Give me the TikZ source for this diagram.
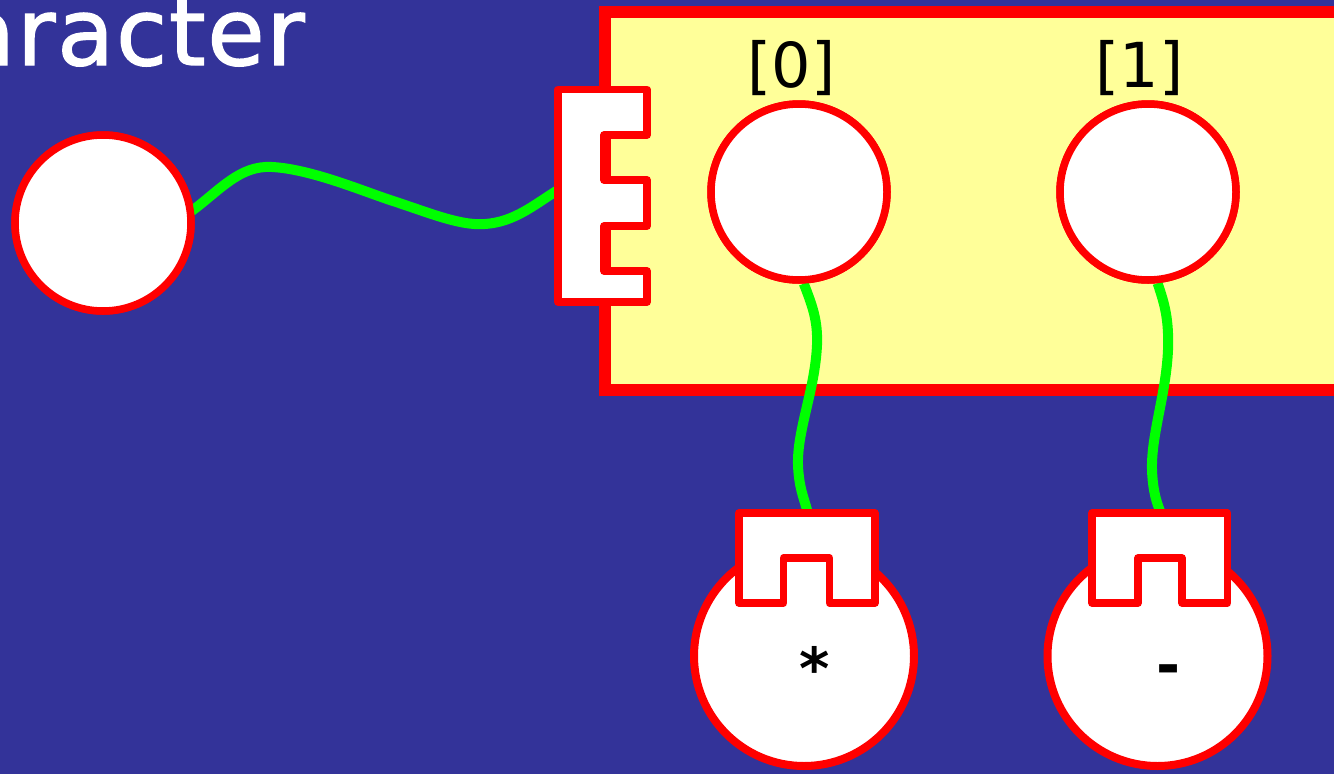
\documentclass[tikz,border=0pt]{standalone}
\usepackage{fontspec}
\newfontfamily\dvs{DejaVu Sans}
\newfontfamily\dvstitle[LetterSpace=2,FakeBold=1.5]{DejaVu Sans}
\definecolor{bgblue}{RGB}{51,51,153}
\definecolor{paleyellow}{RGB}{255,255,153}
\definecolor{wiregreen}{RGB}{0,255,0}
\tikzset{
  ball/.style={circle, draw=red, line width=7.5pt, fill=white, inner sep=0pt, minimum size=176pt},
  bigball/.style={circle, draw=red, line width=8pt, fill=white, inner sep=0pt, minimum size=220pt},
  plug/.style={draw=red, line width=7.5pt, fill=white, line join=round},
  wire/.style={draw=wiregreen, line width=10pt},
  idx/.style={font=\dvs\fontsize{62}{70}\selectfont, text=black, anchor=base, inner sep=0pt},
  sym/.style={font=\dvs\bfseries\fontsize{58}{66}\selectfont, text=black, anchor=base, inner sep=0pt},
  title/.style={font=\dvstitle\fontsize{93}{100}\selectfont, text=white, anchor=base east, inner sep=0pt}
}
\begin{document}
\begin{tikzpicture}[x=1pt,y=-1pt]
\useasboundingbox (0,0) rectangle (1334,774);
\clip (0,0) rectangle (1334,774);
\fill[bgblue] (0,0) rectangle (1334,774);
% array box
\draw[draw=red, line width=12.5pt, fill=paleyellow] (605,12) rectangle (1400,390);
% nodes
\node[ball] (c) at (103,223) {};
\node[ball] (e0) at (799,192) {};
\node[ball] (e1) at (1148,192) {};
\node[bigball] (s0) at (804,656) {};
\node[bigball] (s1) at (1157.5,656) {};
% connection points
\coordinate (pL) at (558,190);
\coordinate (p0) at (808,514);
\coordinate (p1) at (1161,514);
% wires
\draw[wire] (c.east) ++(-3,-12) coordinate (w0)
  .. controls (220,190) and (240,165) .. (272,167)
  .. controls (310,169) and (360,190) .. (390,200)
  .. controls (430,213) and (460,226) .. (485,224)
  .. controls (515,222) and (535,204) .. (pL);
\draw[wire] (e0.-87) .. controls (812,305) and (818,320) .. (817,345)
  .. controls (815,390) and (797,430) .. (798,465)
  .. controls (799,490) and (805,500) .. (p0);
\draw[wire] (e1.-84) .. controls (1165,305) and (1169,320) .. (1168,350)
  .. controls (1166,395) and (1151,435) .. (1152,470)
  .. controls (1153,495) and (1158,505) .. (p1);
% redraw balls above wires
\node[ball] at (c) {};
\node[ball] at (e0) {};
\node[ball] at (e1) {};
% plugs
\draw[plug] (558,89.5) -- (647,89.5) -- (647,135) -- (604,135) -- (604,180) -- (647,180)
  -- (647,226) -- (604,226) -- (604,271) -- (647,271) -- (647,302) -- (558,302) -- cycle;
\draw[plug] (739,513) -- (875,513) -- (875,603) -- (829.5,603) -- (829.5,558) -- (783.5,558)
  -- (783.5,603) -- (739,603) -- cycle;
\draw[plug] (1092,513) -- (1227.5,513) -- (1227.5,603) -- (1182,603) -- (1182,558) -- (1138,558)
  -- (1138,603) -- (1092,603) -- cycle;
% texts
\node[title] (t) at (305,65) {aracter};
\node[idx] (l0) at (791.5,87) {[0]};
\node[idx] (l1) at (1139.5,87) {[1]};
\node[sym] (a0) at (815,689) {*};
\node[sym] (a1) at (1168.5,685) {-};
\end{tikzpicture}
\end{document}
